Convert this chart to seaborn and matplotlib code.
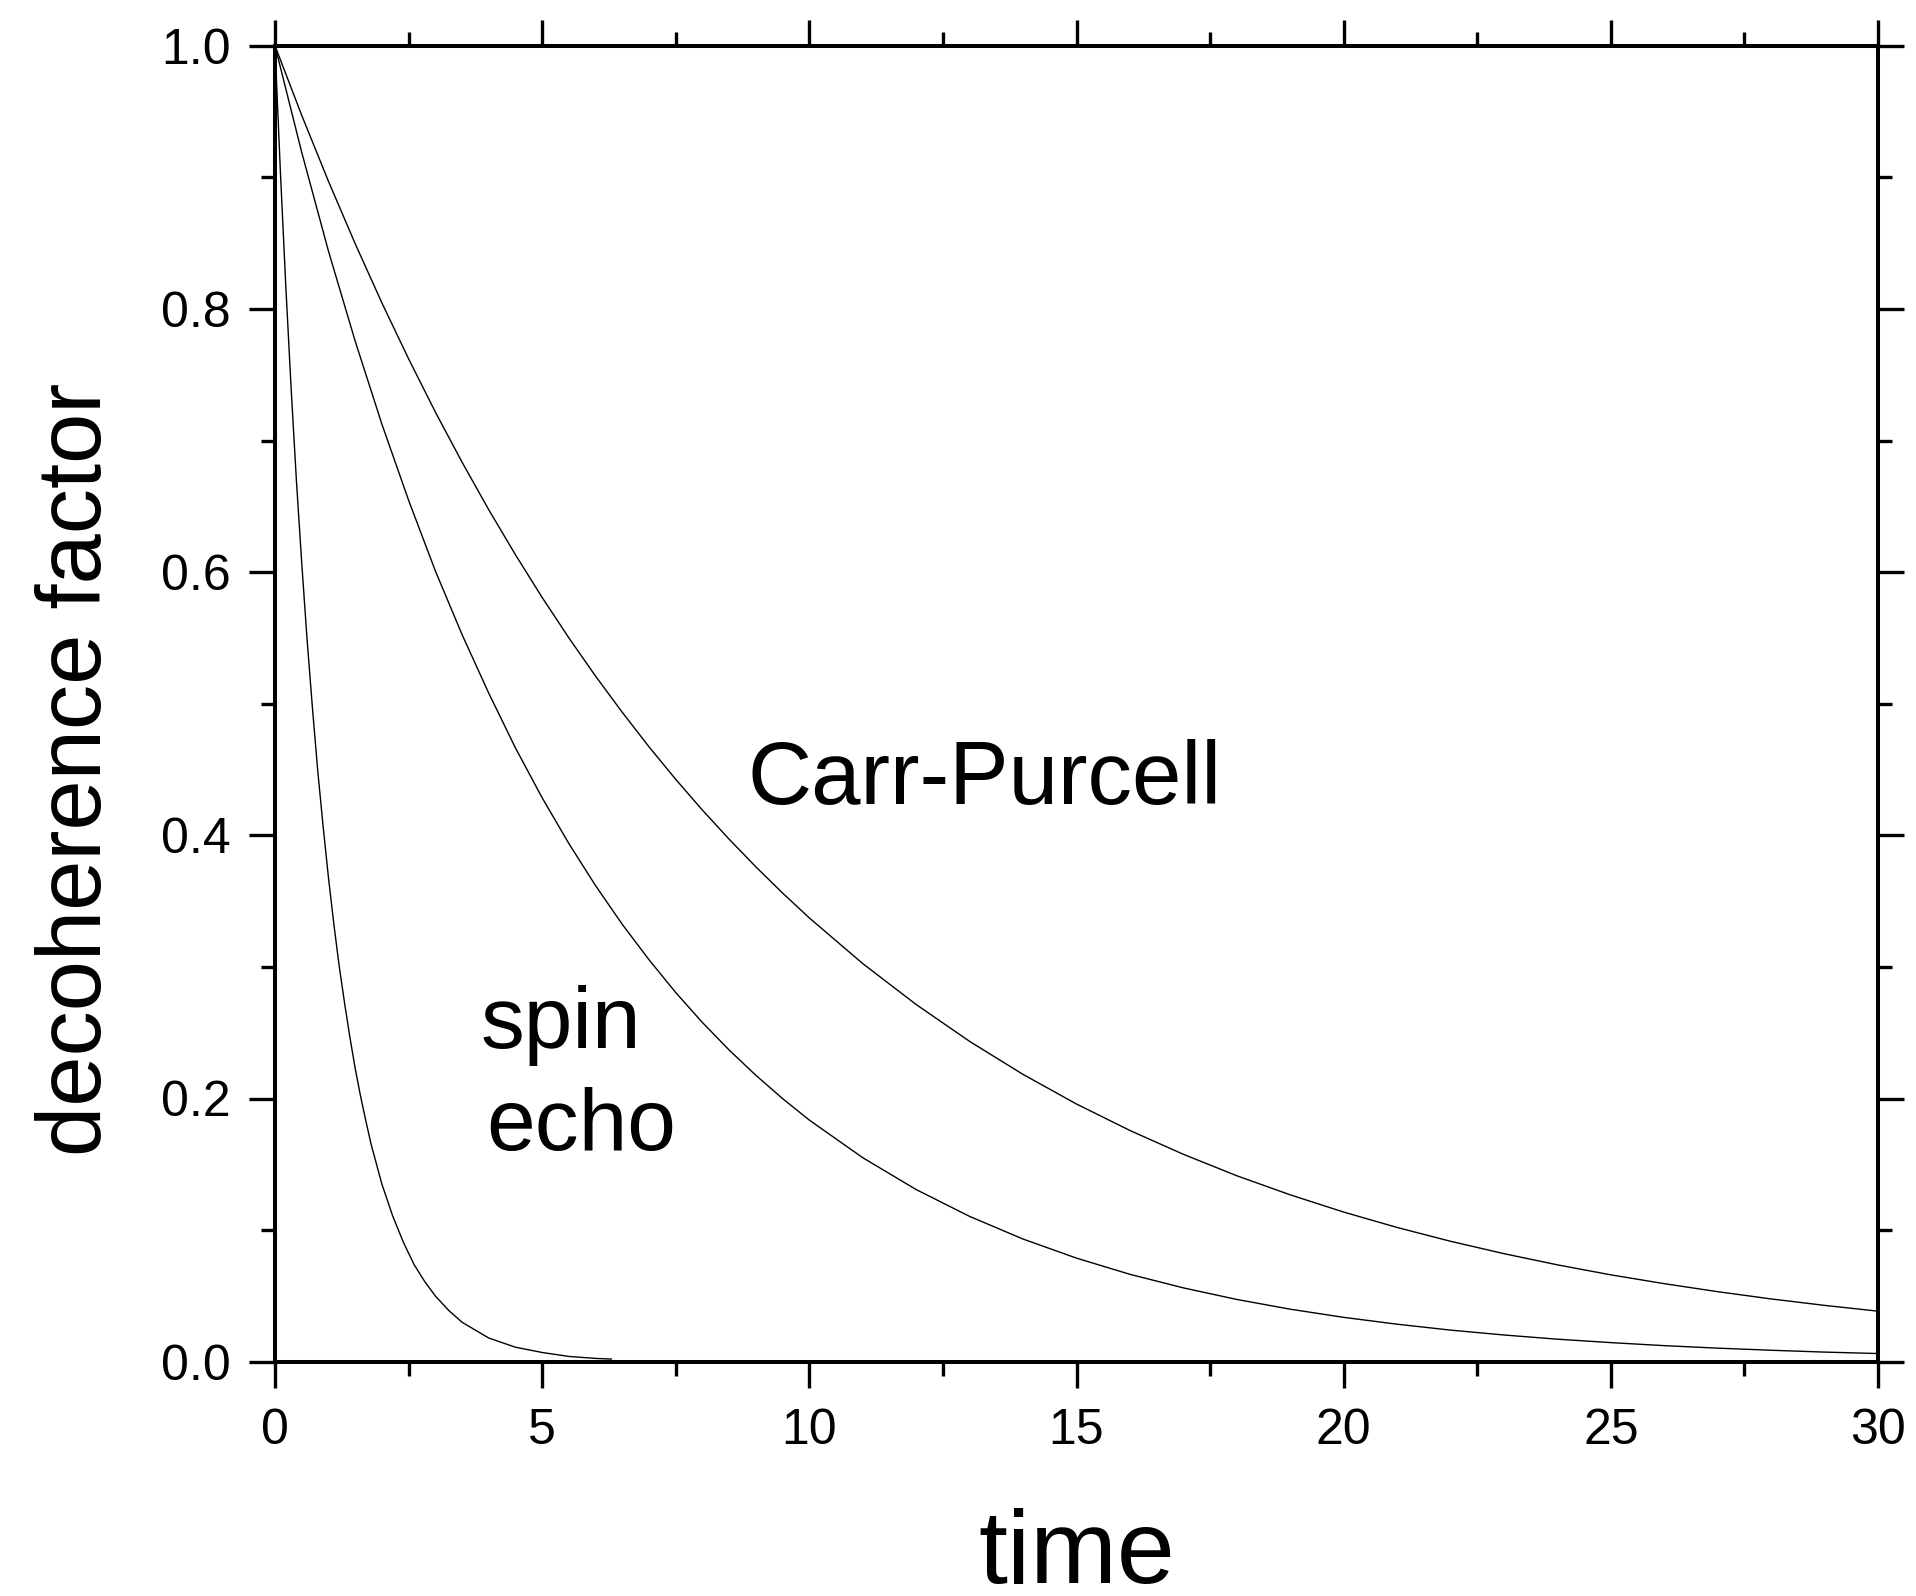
import numpy as np
import pandas as pd
import matplotlib
matplotlib.use("Agg")
import matplotlib.pyplot as plt
from matplotlib.ticker import MultipleLocator
import seaborn as sns

# ---- data ----
fast_time = [0.0, 0.1, 0.2, 0.3, 0.4, 0.5, 0.6, 0.7, 0.8, 0.9, 1.0, 1.1, 1.2, 1.3, 1.4,
             1.5, 1.6, 1.7, 1.8, 1.9, 2.0, 2.2, 2.4, 2.6, 2.8, 3.0, 3.25, 3.5, 3.75,
             4.0, 4.5, 5.0, 5.5, 6.0, 6.3]
fast_value = [1.000, 0.905, 0.819, 0.741, 0.670, 0.607, 0.549, 0.497, 0.449, 0.407,
              0.368, 0.333, 0.301, 0.273, 0.247, 0.223, 0.202, 0.183, 0.165, 0.150,
              0.135, 0.111, 0.091, 0.074, 0.061, 0.050, 0.039, 0.030, 0.024,
              0.018, 0.011, 0.007, 0.004, 0.0025, 0.002]

time_axis = [0, 0.5, 1, 1.5, 2, 2.5, 3, 3.5, 4, 4.5, 5, 5.5, 6, 6.5, 7, 7.5, 8, 8.5, 9,
             9.5, 10, 11, 12, 13, 14, 15, 16, 17, 18, 19, 20, 21, 22, 23, 24, 25, 26,
             27, 28, 29, 30]
echo_value = [1.0, 0.919, 0.844, 0.7756, 0.7125, 0.6546, 0.601, 0.5526, 0.508, 0.4664,
              0.4285, 0.3937, 0.3617, 0.3323, 0.3054, 0.2805, 0.2577, 0.2368, 0.2176,
              0.1999, 0.1836, 0.155, 0.1308, 0.1104, 0.0932, 0.0787, 0.0664, 0.0561,
              0.0473, 0.0399, 0.0337, 0.0285, 0.0240, 0.0203, 0.0171, 0.0145, 0.0122,
              0.0103, 0.0087, 0.0073, 0.0062]
cp_value = [1.0, 0.9471, 0.897, 0.8496, 0.8046, 0.7621, 0.7217, 0.6836, 0.6474, 0.6132,
            0.5807, 0.5500, 0.5209, 0.4934, 0.4672, 0.4425, 0.4191, 0.3970, 0.3760,
            0.3561, 0.3372, 0.3025, 0.2714, 0.2434, 0.2183, 0.1958, 0.1757, 0.1576,
            0.1413, 0.1268, 0.1137, 0.1020, 0.0915, 0.0821, 0.0736, 0.0660, 0.0593,
            0.0532, 0.0477, 0.0428, 0.0384]

x_ticks = [0, 5, 10, 15, 20, 25, 30]
y_ticks = [0.0, 0.2, 0.4, 0.6, 0.8, 1.0]
x_label = "time"
y_label = "decoherence factor"

df = pd.concat([
    pd.DataFrame({"time": fast_time, "value": fast_value, "curve": "free"}),
    pd.DataFrame({"time": time_axis, "value": echo_value, "curve": "spin echo"}),
    pd.DataFrame({"time": time_axis, "value": cp_value, "curve": "Carr-Purcell"}),
], ignore_index=True)

sns.set_style("ticks")
plt.rcParams["font.family"] = ["Liberation Sans", "DejaVu Sans"]
plt.rcParams["text.color"] = "black"
plt.rcParams["axes.labelcolor"] = "black"
plt.rcParams["xtick.color"] = "black"
plt.rcParams["ytick.color"] = "black"

fig = plt.figure(figsize=(19.16, 15.96), dpi=100)
ax = fig.add_axes([275 / 1916, 1 - 1361.7 / 1596, (1878 - 275) / 1916, (1361.7 - 45.7) / 1596])

for name, sub in df.groupby("curve", sort=False):
    sns.lineplot(data=sub, x="time", y="value", ax=ax, color="black",
                 linewidth=1.0, sort=False, estimator=None, legend=False)

ax.set_xlim(0, 30)
ax.set_ylim(0, 1.0)
ax.set_xticks(x_ticks)
ax.set_xticklabels([str(t) for t in x_ticks])
ax.set_yticks(y_ticks)
ax.set_yticklabels([f"{v:.1f}" for v in y_ticks])
ax.xaxis.set_minor_locator(MultipleLocator(2.5))
ax.yaxis.set_minor_locator(MultipleLocator(0.1))

for sp in ax.spines.values():
    sp.set_visible(True)
    sp.set_linewidth(2.9)
    sp.set_color("black")

ax.tick_params(which="both", direction="out", top=True, right=True,
               width=2.4, color="black", labelcolor="black")
ax.tick_params(which="major", length=19)
ax.tick_params(which="minor", length=10)
ax.tick_params(axis="x", which="major", labelsize=36, pad=14)
ax.tick_params(axis="y", which="major", labelsize=36, pad=13)
ax.tick_params(labeltop=False, labelright=False)

ax.set_xlabel(x_label, fontsize=75, color="black")
ax.set_ylabel(y_label, fontsize=65, color="black")
ax.xaxis.set_label_coords(0.5, -0.111)
ax.yaxis.set_label_coords(-0.097, 0.45)

ax.text(8.85, 0.4238, "Carr-Purcell", fontsize=64, va="baseline", ha="left", color="black")
ax.text(3.84, 0.2384, "spin", fontsize=63, va="baseline", ha="left", color="black")
ax.text(3.95, 0.1609, "echo", fontsize=63, va="baseline", ha="left", color="black")

fig.savefig("out.png", dpi=100, facecolor="white")
